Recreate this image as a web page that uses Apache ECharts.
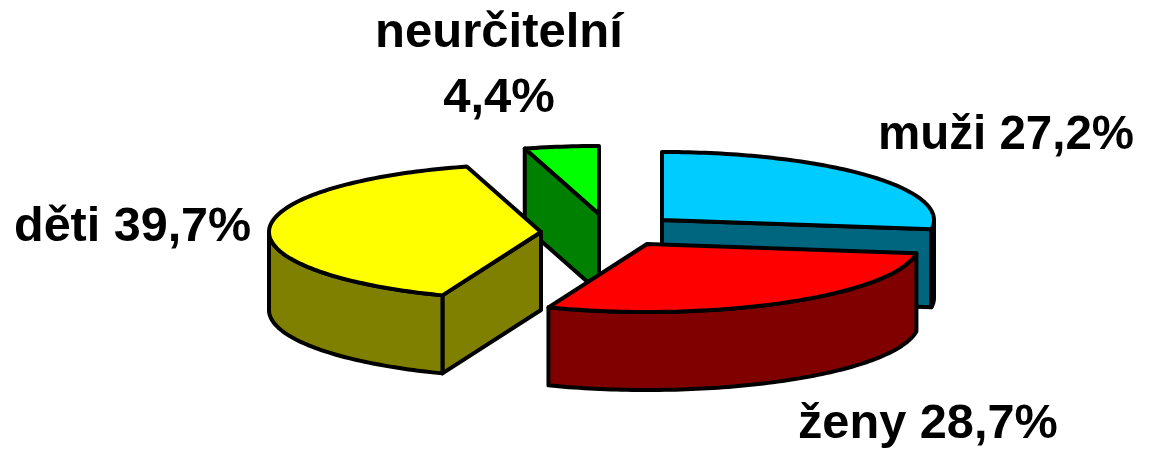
<!DOCTYPE html>
<html><head><meta charset="utf-8">
<style>html,body{margin:0;padding:0;background:#fff}#c{width:1153px;height:451px}</style>
<script src="https://cdn.jsdelivr.net/npm/echarts@6/dist/echarts.min.js"></script>
</head><body><div id="c"></div>
<script>
const categories = ['muži', 'ženy', 'děti', 'neurčitelní'];
const values = [27.2, 28.7, 39.7, 4.4];
const topColors = ['#00CCFF', '#FF0000', '#FFFF00', '#00FF00'];
const sideColors = ['#006680', '#800000', '#808000', '#008000'];
const apexes = [[662, 220], [647, 244], [541, 232], [599, 214]];
const labelAnchors = [[878, 136, 'left', 47.5], [798, 425, 'left', 48.7], [14, 228, 'left', 48.5], [499, 66, 'center', 49]];
const drawOrder = [0, 3, 2, 1];
const RX = 272, RY = 68, DEPTH = 78;

const total = values.reduce((a, b) => a + b, 0);
const starts = [];
values.reduce((acc, v, i) => { starts[i] = acc; return acc + v; }, 0);
const rad = v => v / total * Math.PI * 2;
const fmt = v => String(v.toFixed(1)).replace('.', ',') + '%';

function rim(c, a, dy) { return [c[0] + RX * Math.sin(a), c[1] - RY * Math.cos(a) + dy]; }
function arc(c, a0, a1, dy) {
  const n = Math.max(2, Math.ceil(Math.abs(a1 - a0) / 0.02)), out = [];
  for (let k = 0; k <= n; k++) out.push(rim(c, a0 + (a1 - a0) * k / n, dy));
  return out;
}
const stroke = { stroke: '#000', lineWidth: 4, lineJoin: 'round' };
function poly(points, fill) {
  return { type: 'polygon', shape: { points }, style: Object.assign({ fill }, stroke) };
}
function renderItem(params, api) {
  const i = api.value(2);
  const a0 = rad(api.value(1)), a1 = a0 + rad(api.value(0));
  const c = apexes[i], side = sideColors[i], kids = [];
  const wall = a => poly([c, rim(c, a, 0), rim(c, a, DEPTH), [c[0], c[1] + DEPTH]], side);
  if (Math.sin(a0) < -1e-6) kids.push(wall(a0));
  if (Math.sin(a1) > 1e-6) kids.push(wall(a1));
  const lo = Math.max(a0, Math.PI / 2), hi = Math.min(a1, Math.PI * 1.5);
  if (hi > lo) {
    const upper = arc(c, lo, hi, 0), lower = arc(c, hi, lo, DEPTH);
    kids.push(poly(upper.concat(lower), i === 0 ? '#000' : side));
  }
  kids.push(poly([c].concat(arc(c, a0, a1, 0)), topColors[i]));
  const L = labelAnchors[i];
  const text = i === 3 ? categories[i] + '\n' + fmt(values[i]) : categories[i] + ' ' + fmt(values[i]);
  kids.push({
    type: 'text', z2: 100,
    style: { x: L[0], y: L[1], text, align: L[2], verticalAlign: 'middle', fill: '#000',
      font: 'bold ' + L[3] + 'px "Liberation Sans", Arial, sans-serif', lineHeight: 65 }
  });
  return { type: 'group', children: kids };
}
const chart = echarts.init(document.getElementById('c'), null, { renderer: 'canvas' });
chart.setOption({
  animation: false,
  backgroundColor: '#fff',
  series: [{
    type: 'custom', coordinateSystem: 'none', renderItem, silent: true,
    data: drawOrder.map(i => [values[i], starts[i], i])
  }]
});
</script></body></html>
